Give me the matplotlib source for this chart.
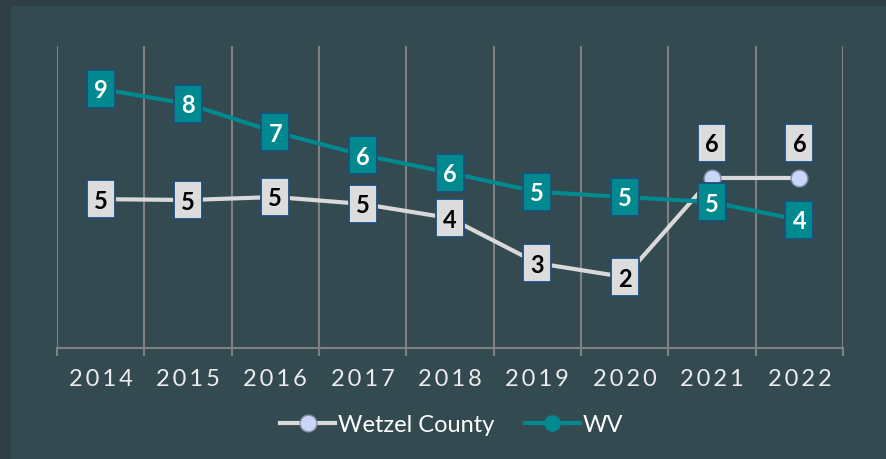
import matplotlib
matplotlib.use("Agg")
import matplotlib.pyplot as plt
from matplotlib.patches import Rectangle
from matplotlib.transforms import offset_copy

years = ["2014", "2015", "2016", "2017", "2018", "2019", "2020", "2021", "2022"]
wetzel = [4.93, 4.90, 5.00, 4.77, 4.30, 2.81, 2.35, 5.63, 5.63]
wv = [8.58, 8.08, 7.15, 6.39, 5.80, 5.17, 5.00, 4.83, 4.24]

bg = "#344a51"
outer = "#2e3e44"
grey_line = "#d9d9d9"
teal = "#00898f"
box_edge = "#1f4e79"

plt.rcParams['font.family'] = ['Lato', 'DejaVu Sans']

fig = plt.figure(figsize=(8.87, 4.59), dpi=100)
fig.patch.set_facecolor(outer)
# inner panel
fig.patches.append(Rectangle((11 / 887, 0), 1, (459 - 6) / 459, transform=fig.transFigure,
                             facecolor=bg, edgecolor="none", zorder=-10))

ax = fig.add_axes([57 / 887, (459 - 348) / 459, (843 - 57) / 887, (348 - 46) / 459])
ax.set_facecolor("none")
x = list(range(len(years)))

ax.plot(x, wetzel, color=grey_line, lw=3, marker="o", ms=12,
        mfc="#c9d6f7", mec="#8a8fa8", mew=1, zorder=3, label="Wetzel County")
ax.plot(x, wv, color=teal, lw=3, marker="o", ms=11,
        mfc=teal, mec=teal, zorder=4, label="WV")

# label boxes: tall rectangles (28 x 39 px)
box = [(-14, -19.5), (14, -19.5), (14, 19.5), (-14, 19.5), (-14, -19.5)]
box_ms = 39 / 1.389
up = offset_copy(ax.transData, fig=fig, x=0, y=35, units="dots")

for i, v in enumerate(wetzel):
    tr = up if i >= 7 else ax.transData
    ax.plot([i], [v], ls="none", marker=box, ms=box_ms, mfc="#dcdcdc", mec=box_edge,
            mew=1.3, transform=tr, zorder=5)
    ax.text(i, v, str(round(v)), transform=tr, ha="center", va="center_baseline",
            fontsize=17, fontweight="bold", color="black", zorder=6)
for i, v in enumerate(wv):
    ax.plot([i], [v], ls="none", marker=box, ms=box_ms, mfc=teal, mec=box_edge,
            mew=1.3, zorder=7)
    ax.text(i, v, str(round(v)), ha="center", va="center_baseline", fontsize=17,
            fontweight="bold", color="white", zorder=8)

ax.set_xlim(-0.5, len(years) - 0.5)
ax.set_ylim(0, 10)
for b in [i - 0.5 for i in range(len(years) + 1)]:
    ax.axvline(b, color="#808080", lw=1.5, zorder=1)

ax.set_xticks(x)
ax.set_xticklabels(["\u2009".join(y) for y in years], fontsize=17, color="#ececec")
ax.set_xticks([i - 0.5 for i in range(len(years) + 1)], minor=True)
ax.tick_params(axis="x", which="major", length=0, pad=15)
ax.tick_params(axis="x", which="minor", length=6, width=1.5, color="#808080")
ax.set_yticks([])
for s in ["top", "left", "right"]:
    ax.spines[s].set_visible(False)
ax.spines["bottom"].set_color("#808080")
ax.spines["bottom"].set_linewidth(1.5)

leg = fig.legend(loc="center", bbox_to_anchor=(452 / 887, (459 - 425) / 459), ncol=2,
                 frameon=False, fontsize=17, handlelength=2.3, handletextpad=0.15,
                 columnspacing=1.3)
for t in leg.get_texts():
    t.set_color("white")

fig.savefig("out.png", dpi=100, facecolor=fig.get_facecolor())
